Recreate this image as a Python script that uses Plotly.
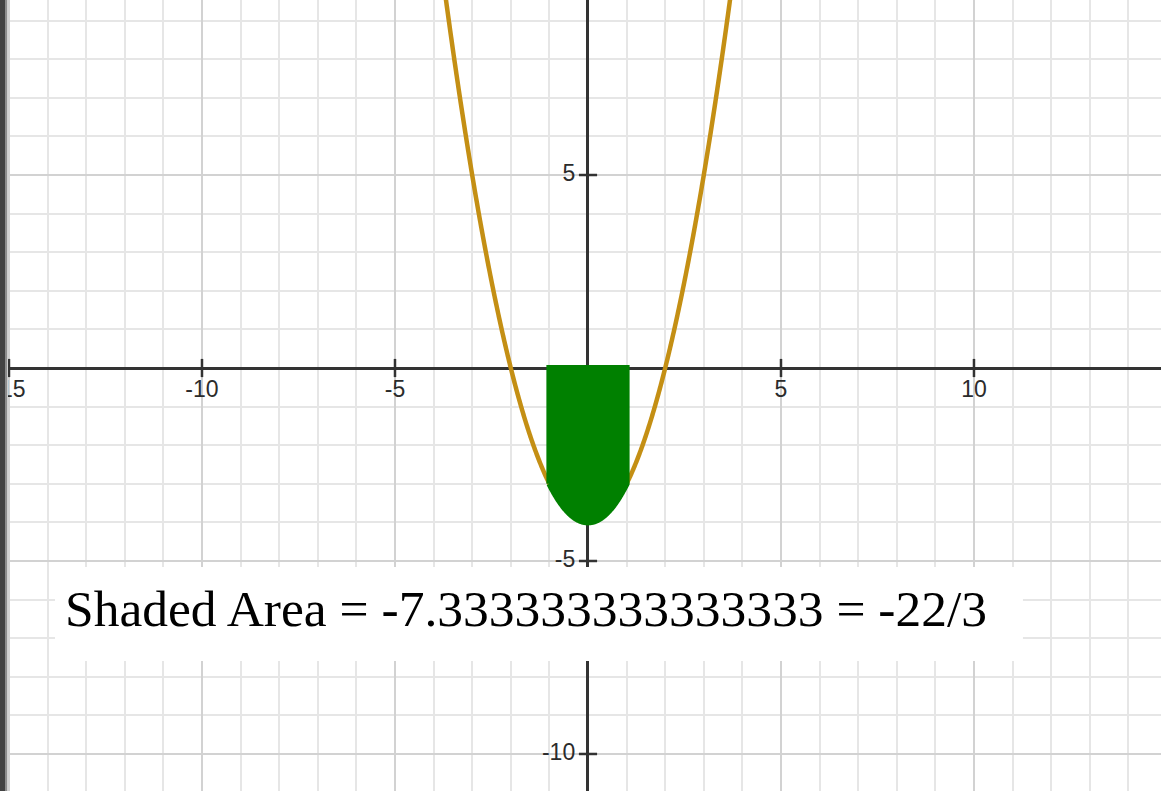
from fractions import Fraction
import numpy as np
import plotly.graph_objects as go

# y = a*x^2 + b*x + c
coef_a, coef_b, coef_c = 1, 0, -4
# integration bounds for the shaded region
shade_from, shade_to = -1, 1
# labelled axis ticks
x_ticks = [-15, -10, -5, 5, 10]
y_ticks = [5, -5, -10]

X_RANGE = [-15.233, 14.845]
Y_RANGE = [-10.959, 9.534]

CURVE_COLOR = "#c48f14"
FILL_COLOR = "#008000"
AXIS_COLOR = "#333333"


def f(x):
    return coef_a * x ** 2 + coef_b * x + coef_c


# exact definite integral of the quadratic over the shaded interval
def antideriv(x):
    x = Fraction(x)
    return Fraction(coef_a) * x ** 3 / 3 + Fraction(coef_b) * x ** 2 / 2 + Fraction(coef_c) * x


area = antideriv(shade_to) - antideriv(shade_from)
area_text = f"Shaded Area = {repr(float(area))} = {area.numerator}/{area.denominator}"

xs = np.linspace(-4, 4, 801)
curve = go.Scatter(x=xs, y=f(xs), mode="lines",
                   line=dict(color=CURVE_COLOR, width=4.5, simplify=False),
                   hoverinfo="skip", showlegend=False)

sx = np.linspace(shade_from, shade_to, 201)
fill_x = np.concatenate([sx, [shade_to, shade_from, shade_from]])
fill_y = np.concatenate([f(sx), [0, 0, f(shade_from)]])
region = go.Scatter(x=fill_x, y=fill_y, mode="lines", fill="toself",
                    fillcolor=FILL_COLOR,
                    line=dict(width=6, color=FILL_COLOR, simplify=False),
                    hoverinfo="skip", showlegend=False)

# cross ticks on the two axes
xtick_marks = go.Scatter(x=x_ticks, y=[0] * len(x_ticks), mode="markers",
                         marker=dict(symbol="line-ns", size=13,
                                     line=dict(color=AXIS_COLOR, width=2.5)),
                         hoverinfo="skip", showlegend=False, cliponaxis=False)
ytick_marks = go.Scatter(x=[0] * len(y_ticks), y=y_ticks, mode="markers",
                         marker=dict(symbol="line-ew", size=13,
                                     line=dict(color=AXIS_COLOR, width=2.5)),
                         hoverinfo="skip", showlegend=False, cliponaxis=False)

tick_font = dict(family="Arial, Liberation Sans, sans-serif", size=23, color="#2b2b2b")
# invisible markers push the x numbers a little below the axis
xtick_labels = go.Scatter(x=x_ticks, y=[0] * len(x_ticks), mode="markers+text",
                          text=[str(v) for v in x_ticks],
                          marker=dict(size=17, color="rgba(0,0,0,0)"),
                          textposition="bottom center", textfont=tick_font,
                          hoverinfo="skip", showlegend=False, cliponaxis=False)
ytick_labels = go.Scatter(x=[0] * len(y_ticks), y=y_ticks, mode="text",
                          text=[str(v) + "  " for v in y_ticks],
                          textposition="middle left", textfont=tick_font,
                          hoverinfo="skip", showlegend=False, cliponaxis=False)

fig = go.Figure([curve, region, xtick_marks, ytick_marks, xtick_labels, ytick_labels])

grid_axis = dict(
    showgrid=True, gridcolor="#d2d2d2", gridwidth=2, dtick=5, tick0=0,
    minor=dict(showgrid=True, gridcolor="#e6e6e6", gridwidth=2, dtick=1, tick0=0),
    zeroline=True, zerolinecolor=AXIS_COLOR, zerolinewidth=2.5,
    showticklabels=False, ticks="", showline=False, fixedrange=True,
)

fig.update_layout(
    width=1161, height=791,
    margin=dict(l=0, r=0, t=0, b=0),
    paper_bgcolor="white", plot_bgcolor="white",
    xaxis=dict(range=X_RANGE, **grid_axis),
    yaxis=dict(range=Y_RANGE, **grid_axis),
    shapes=[
        # label panel
        dict(type="rect", xref="paper", yref="paper", x0=0.0474, x1=0.8811,
             y0=0.1643, y1=0.2832, fillcolor="white", line=dict(width=0), layer="above"),
        # window frame on the left edge
        dict(type="rect", xref="paper", yref="paper", x0=0, x1=5 / 1161, y0=0, y1=1,
             fillcolor="#424242", line=dict(width=0), layer="above"),
        dict(type="rect", xref="paper", yref="paper", x0=5 / 1161, x1=7 / 1161, y0=0, y1=1,
             fillcolor="#8c8c8c", line=dict(width=0), layer="above"),
        dict(type="rect", xref="paper", yref="paper", x0=7 / 1161, x1=8 / 1161, y0=0, y1=1,
             fillcolor="#cfcfcf", line=dict(width=0), layer="above"),
    ],
    annotations=[
        dict(text=area_text, xref="paper", yref="paper", x=63 / 1161, y=1 - 608 / 791,
             xanchor="left", yanchor="middle", showarrow=False,
             font=dict(family="Liberation Serif, Times New Roman, serif", size=51.5, color="black")),
    ],
)

fig.write_html("out.html")
